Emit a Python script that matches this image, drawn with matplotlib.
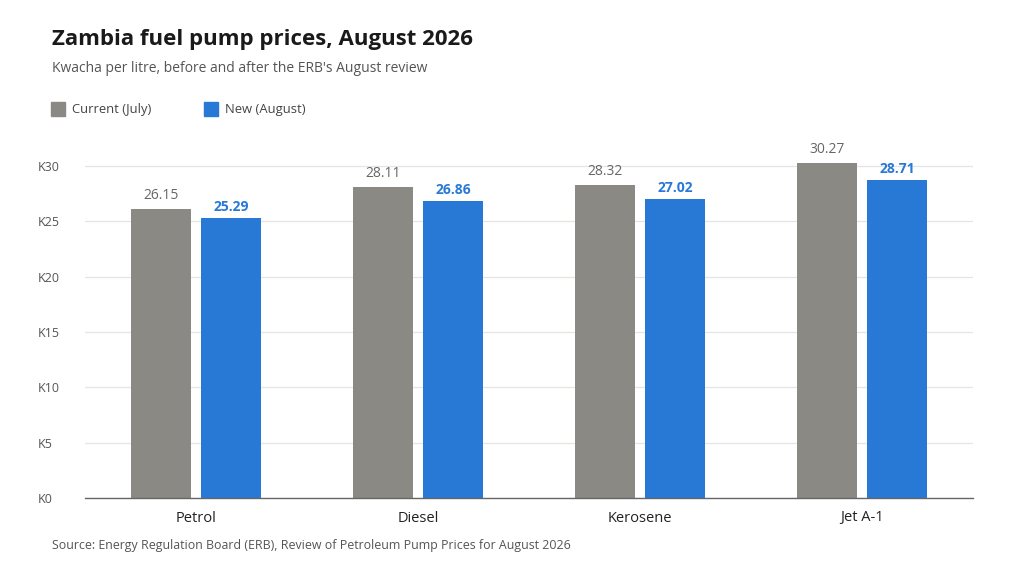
import matplotlib
matplotlib.use("Agg")
import matplotlib.pyplot as plt
import numpy as np
from matplotlib.patches import Rectangle

categories = ["Petrol", "Diesel", "Kerosene", "Jet A-1"]
current_july = [26.15, 28.11, 28.32, 30.27]
new_august = [25.29, 26.86, 27.02, 28.71]
yticks = [0, 5, 10, 15, 20, 25, 30]
ytick_labels = ["K0", "K5", "K10", "K15", "K20", "K25", "K30"]

plt.rcParams['font.family'] = ['Open Sans', 'DejaVu Sans']

GRAY = "#8a8983"
BLUE = "#2878d6"

fig = plt.figure(figsize=(10.24, 5.76), dpi=100)
bottom = 78 / 576
top30 = 410 / 576
ymax = 32
height = (top30 - bottom) * ymax / 30
ax = fig.add_axes([85 / 1024, bottom, 888 / 1024, height])

x = np.arange(len(categories))
off = 35 / 222
w = 60 / 222
b1 = ax.bar(x - off, current_july, width=w, color=GRAY, zorder=3)
b2 = ax.bar(x + off, new_august, width=w, color=BLUE, zorder=3)

for rect, v in zip(b1, current_july):
    ax.annotate(f"{v:.2f}", (rect.get_x() + rect.get_width() / 2, v),
                xytext=(0, 4), textcoords="offset points", ha="center", va="bottom",
                fontsize=10, color="#666666")
for rect, v in zip(b2, new_august):
    ax.annotate(f"{v:.2f}", (rect.get_x() + rect.get_width() / 2, v),
                xytext=(0, 3), textcoords="offset points", ha="center", va="bottom",
                fontsize=10, color=BLUE, fontweight="bold")

ax.set_xlim(-0.5, len(categories) - 0.5)
ax.set_ylim(0, ymax)
ax.set_yticks(yticks)
ax.set_yticklabels(ytick_labels)
ax.set_xticks(x)
ax.set_xticklabels(categories)
ax.tick_params(axis="y", length=0, pad=34, labelsize=9, labelcolor="#555555")
for lab in ax.get_yticklabels():
    lab.set_horizontalalignment("left")
ax.tick_params(axis="x", length=0, pad=9, labelsize=10.5, labelcolor="#222222")
ax.grid(axis="y", color="#e6e6e0", linewidth=0.9, zorder=0)
ax.set_axisbelow(True)
for s in ["top", "right", "left"]:
    ax.spines[s].set_visible(False)
ax.spines["bottom"].set_color("#666666")
ax.spines["bottom"].set_linewidth(1.0)
ax.spines["bottom"].set_zorder(4)

fig.text(52 / 1024, 1 - 40 / 576, "Zambia fuel pump prices, August 2026",
         fontsize=16, fontweight="bold", color="#1a1a1a", va="center", ha="left")
fig.text(52 / 1024, 1 - 68 / 576, "Kwacha per litre, before and after the ERB's August review",
         fontsize=10, color="#555555", va="center", ha="left")

fig.patches.append(Rectangle((51 / 1024, 1 - 116 / 576), 14 / 1024, 14 / 576,
                             transform=fig.transFigure, color=GRAY))
fig.text(72 / 1024, 1 - 109 / 576, "Current (July)", fontsize=9.4, color="#444444",
         va="center", ha="left")
fig.patches.append(Rectangle((204 / 1024, 1 - 116 / 576), 14 / 1024, 14 / 576,
                             transform=fig.transFigure, color=BLUE))
fig.text(225 / 1024, 1 - 109 / 576, "New (August)", fontsize=9.4, color="#444444",
         va="center", ha="left")

fig.text(52 / 1024, 1 - 546 / 576,
         "Source: Energy Regulation Board (ERB), Review of Petroleum Pump Prices for August 2026",
         fontsize=8.9, color="#555555", va="center", ha="left")

fig.savefig("out.png", dpi=100, facecolor="white")
